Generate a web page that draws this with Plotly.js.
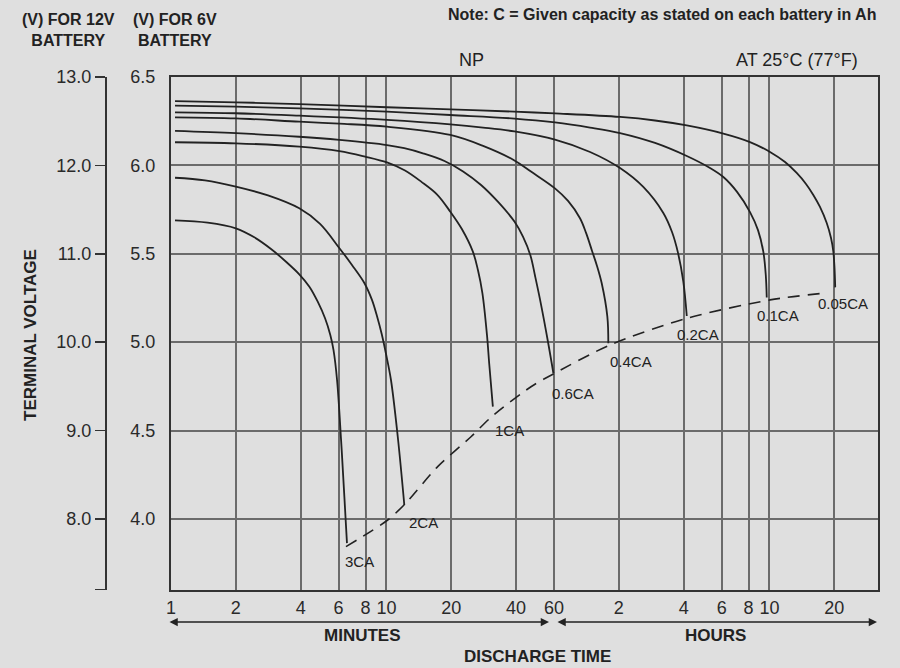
<!DOCTYPE html>
<html>
<head>
<meta charset="utf-8">
<script src="https://cdn.plot.ly/plotly-3.0.1.min.js"></script>
<style>
  html, body { margin: 0; padding: 0; background: #dfdfdf; }
  #chart { width: 900px; height: 668px; }
</style>
</head>
<body>
<div id="chart"></div>
<script>
// NP series discharge characteristics at 25 °C.
// Time is in minutes; voltage is per 6 V battery (12 V axis is exactly 2x).
const t3CA = [1.044, 1.48, 2.0, 2.437, 2.913, 3.42, 3.94, 4.39, 4.80, 5.19, 5.49, 5.68, 5.90, 6.16, 6.38, 6.56];
const v3CA = [5.689, 5.676, 5.644, 5.593, 5.527, 5.455, 5.384, 5.314, 5.229, 5.135, 5.041, 4.956, 4.786, 4.446, 4.126, 3.863];

const t2CA = [1.044, 1.438, 2.0, 2.82, 3.94, 4.92, 6.04, 6.92, 7.90, 8.57, 9.04, 9.51, 9.96, 10.5, 11.29, 12.11];
const v2CA = [5.930, 5.915, 5.880, 5.830, 5.757, 5.669, 5.533, 5.437, 5.335, 5.239, 5.148, 5.046, 4.933, 4.786, 4.465, 4.079];

const t1CA = [1.044, 2.0, 3.94, 6.05, 7.96, 10.06, 12.2, 14.5, 17.2, 19.8, 22.4, 25.2, 26.6, 27.9, 29.3, 30.0, 31.2];
const v1CA = [6.131, 6.125, 6.106, 6.081, 6.050, 6.017, 5.971, 5.908, 5.835, 5.738, 5.640, 5.512, 5.408, 5.278, 5.041, 4.881, 4.635];

const t06CA = [1.044, 2.0, 3.94, 6.05, 10.06, 12.1, 14.9, 18.6, 22.7, 27.5, 33.0, 39.3, 43.1, 46.7, 49.0, 51.7, 56.4, 59.6];
const v06CA = [6.195, 6.182, 6.162, 6.144, 6.115, 6.097, 6.067, 6.025, 5.966, 5.889, 5.793, 5.682, 5.595, 5.488, 5.374, 5.239, 4.994, 4.824];

const t04CA = [1.044, 2.0, 3.94, 6.05, 10.06, 19.8, 28.1, 39.3, 46.9, 60.6, 69.7, 79.2, 84.5, 90.1, 95.0, 99.9, 106.1, 107.2];
const v04CA = [6.272, 6.266, 6.247, 6.236, 6.219, 6.172, 6.110, 6.028, 5.965, 5.870, 5.799, 5.701, 5.618, 5.516, 5.431, 5.333, 5.144, 4.994];

const t02CA = [1.044, 2.0, 3.94, 10.06, 19.8, 28.1, 39.3, 60.6, 88.2, 121.5, 155.8, 193, 211.8, 225.8, 239, 248];
const v02CA = [6.300, 6.295, 6.281, 6.257, 6.232, 6.214, 6.192, 6.146, 6.076, 5.985, 5.878, 5.731, 5.623, 5.505, 5.342, 5.148];

const t01CA = [1.044, 2.0, 3.94, 10.06, 19.8, 39.3, 60.6, 88.2, 121.5, 176.6, 248, 318, 366.6, 424.4, 487.5, 531, 562, 577, 583];
const v01CA = [6.338, 6.332, 6.323, 6.304, 6.285, 6.265, 6.243, 6.214, 6.183, 6.127, 6.053, 5.985, 5.934, 5.850, 5.736, 5.634, 5.512, 5.380, 5.253];

const t005CA = [1.044, 2.0, 3.94, 10.06, 19.8, 39.3, 60.6, 121.5, 176.6, 248, 366.6, 487.5, 603.7, 708.9, 803, 887, 959.2, 1030, 1107, 1159, 1188, 1203, 1212];
const v005CA = [6.364, 6.357, 6.346, 6.329, 6.317, 6.304, 6.294, 6.274, 6.254, 6.226, 6.180, 6.132, 6.076, 6.019, 5.957, 5.895, 5.833, 5.765, 5.674, 5.589, 5.512, 5.420, 5.310];

// Final discharge voltage line (dashed)
const tEnd = [6.49, 10.14, 12.29, 17.3, 24.7, 30.6, 46.9, 59.6, 109, 248, 604, 1067];
const vEnd = [3.843, 3.994, 4.089, 4.296, 4.465, 4.575, 4.748, 4.820, 4.984, 5.135, 5.239, 5.277];

const rateLabels = ['3CA', '2CA', '1CA', '0.6CA', '0.4CA', '0.2CA', '0.1CA', '0.05CA'];
const rateTimes = [t3CA, t2CA, t1CA, t06CA, t04CA, t02CA, t01CA, t005CA];
const rateVolts = [v3CA, v2CA, v1CA, v06CA, v04CA, v02CA, v01CA, v005CA];

const timeTickVals = [1, 2, 4, 6, 8, 10, 20, 40, 60, 120, 240, 360, 480, 600, 1200];
const timeTickText = ['1', '2', '4', '6', '8', '10', '20', '40', '60', '2', '4', '6', '8', '10', '20'];
const volt6Ticks = [4.0, 4.5, 5.0, 5.5, 6.0, 6.5];
const volt12Ticks = [8.0, 9.0, 10.0, 11.0, 12.0, 13.0];

// ---- styling ----
const FONT = 'Liberation Sans, Arial, Helvetica, sans-serif';
const BG = '#dfdfdf';
const INK = '#222222';
const GRID = '#6b6b6b';
const V6_MIN = 3.598, V6_MAX = 6.5;

// label offsets (px) from each curve's end point: [dx, dy]
const labelOffsets = [[-4, -8], [3, -7], [0, -13], [-3, -10], [0, -8], [-12, -8], [-12, -8], [-19, -6]];

const traces = rateLabels.map((name, i) => ({
  type: 'scatter', mode: 'lines', name: name,
  x: rateTimes[i], y: rateVolts[i],
  line: { color: INK, width: 1.8, shape: 'spline', smoothing: 1.0 },
  hoverinfo: 'skip'
}));
traces.push({
  type: 'scatter', mode: 'lines', name: 'final voltage',
  x: tEnd, y: vEnd,
  line: { color: INK, width: 1.6, dash: '12px,8px', shape: 'spline', smoothing: 0.8 },
  hoverinfo: 'skip'
});
// empty trace so the 12 V scale is laid out as its own axis
traces.push({ type: 'scatter', mode: 'lines', x: [], y: [], yaxis: 'y2', hoverinfo: 'skip', showlegend: false });

const annotations = rateLabels.map((name, i) => {
  const ts = rateTimes[i], vs = rateVolts[i];
  return {
    text: name, xref: 'x', yref: 'y',
    x: Math.log10(ts[ts.length - 1]), y: vs[vs.length - 1],
    xanchor: 'left', yanchor: 'top', showarrow: false,
    xshift: labelOffsets[i][0], yshift: labelOffsets[i][1],
    font: { family: FONT, size: 15, color: INK }
  };
});

const W = 778, H = 513;           // plot box size in px
const px = X => (X - 100) / W;    // page x -> paper
const py = Y => (590 - Y) / H;    // page y -> paper

function label(text, X, Y, opts) {
  return Object.assign({
    text: text, xref: 'paper', yref: 'paper', x: px(X), y: py(Y),
    showarrow: false, xanchor: 'center', yanchor: 'middle',
    font: { family: FONT, size: 16, color: INK }
  }, opts || {});
}

annotations.push(
  label('<b>Note: C = Given capacity as stated on each battery in Ah</b>', 878, 14, { xanchor: 'right' }),
  label('<b>(V) FOR 12V<br>BATTERY</b>', 68, 30),
  label('<b>(V) FOR 6V<br>BATTERY</b>', 175, 30),
  label('NP', 471, 60, { font: { family: FONT, size: 18, color: INK } }),
  label('AT 25°C (77°F)', 860, 60, { xanchor: 'right', font: { family: FONT, size: 18, color: INK } }),
  label('<b>TERMINAL VOLTAGE</b>', 30, 335, { textangle: -90, font: { family: FONT, size: 17, color: INK } }),
  label('<b>MINUTES</b>', 362, 635, { font: { family: FONT, size: 17, color: INK } }),
  label('<b>HOURS</b>', 715, 635, { font: { family: FONT, size: 17, color: INK } }),
  label('<b>DISCHARGE TIME</b>', 537, 656, { font: { family: FONT, size: 17, color: INK } })
);

// double-headed span arrows under the time axis
function span(X0, X1, Y) {
  return {
    text: '', xref: 'paper', yref: 'paper', x: px(X1), y: py(Y),
    ax: -(X1 - X0), ay: 0, axref: 'pixel', ayref: 'pixel',
    showarrow: true, arrowside: 'end+start', arrowhead: 2, startarrowhead: 2,
    arrowsize: 1.1, startarrowsize: 1.1, arrowwidth: 1.5, arrowcolor: INK,
    standoff: 0, startstandoff: 0
  };
}
annotations.push(span(168, 549, 622), span(556, 877, 622));

const layout = {
  width: 900, height: 668,
  margin: { l: 100, r: 22, t: 77, b: 78 },
  paper_bgcolor: BG, plot_bgcolor: BG,
  showlegend: false,
  font: { family: FONT, size: 18, color: '#2a2a2a' },
  xaxis: {
    type: 'log', domain: [71 / W, 1], range: [0, Math.log10(1915)],
    tickmode: 'array', tickvals: timeTickVals, ticktext: timeTickText,
    ticks: '', showgrid: true, gridcolor: GRID, gridwidth: 2,
    showline: true, linecolor: '#333', linewidth: 2, mirror: true,
    zeroline: false, tickfont: { family: FONT, size: 18, color: '#2a2a2a' }
  },
  yaxis: {
    range: [V6_MIN, V6_MAX], tickmode: 'array', tickvals: volt6Ticks, tickformat: '.1f',
    ticks: 'outside', ticklen: 10, tickcolor: 'rgba(0,0,0,0)',
    showgrid: true, gridcolor: GRID, gridwidth: 2,
    showline: true, linecolor: '#333', linewidth: 2, mirror: true,
    zeroline: false, tickfont: { family: FONT, size: 18, color: '#2a2a2a' }
  },
  yaxis2: {
    overlaying: 'y', anchor: 'free', position: 5 / W, side: 'left',
    range: [V6_MIN * 2, V6_MAX * 2],
    tickmode: 'array', tickvals: [V6_MIN * 2 + 0.004].concat(volt12Ticks),
    ticktext: [''].concat(volt12Ticks.map(v => v.toFixed(1))),
    ticks: 'outside', ticklen: 10, tickwidth: 1.5, tickcolor: '#333',
    showline: true, linecolor: '#333', linewidth: 1.8,
    showgrid: false, zeroline: false,
    tickfont: { family: FONT, size: 18, color: '#2a2a2a' }
  },
  annotations: annotations
};

Plotly.newPlot('chart', traces, layout, { staticPlot: true, displayModeBar: false });
</script>
</body>
</html>
